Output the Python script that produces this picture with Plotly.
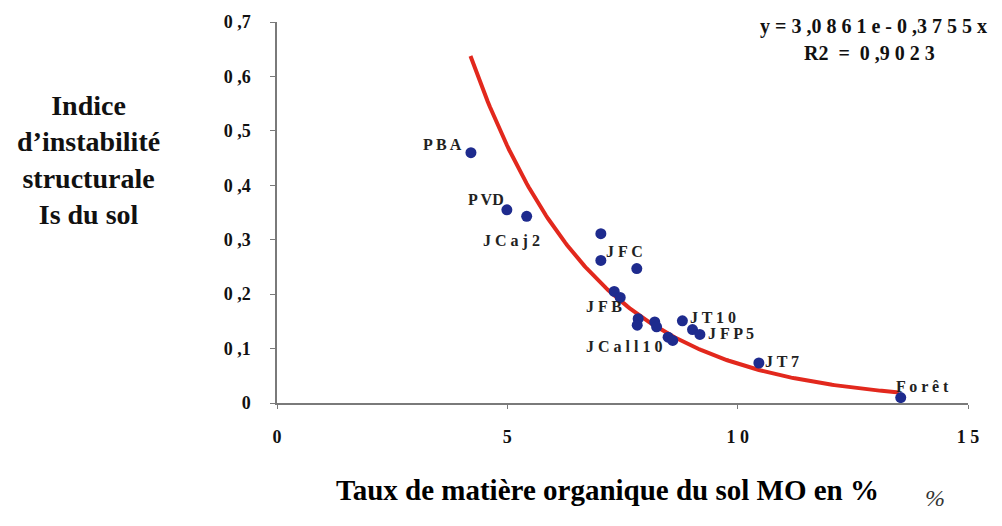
import numpy as np
import plotly.graph_objects as go

# Organic matter content (%) and structural instability index Is
mo_pct = [4.21, 4.99, 5.42, 7.03, 7.03, 7.81, 7.32, 7.45, 7.84, 7.82,
          8.20, 8.24, 8.49, 8.59, 8.80, 9.02, 9.18, 10.46, 13.54]
is_index = [0.460, 0.355, 0.343, 0.311, 0.262, 0.247, 0.205, 0.194, 0.155, 0.143,
            0.149, 0.140, 0.121, 0.115, 0.151, 0.135, 0.126, 0.0735, 0.010]

# Site labels and where they sit (data units)
site_names = ["P B A", "P VD", "J C a j 2", "J F C", "J F B", "J C a l l 1 0",
              "J T 1 0", "J F P 5", "J T 7", "F o r ê t"]
site_label_x = [3.60, 4.54, 5.08, 7.55, 7.10, 7.53, 9.46, 9.85, 10.96, 14.02]
site_label_y = [0.475, 0.374, 0.297, 0.279, 0.178, 0.104, 0.157, 0.128, 0.077, 0.031]

# Exponential fit y = a * exp(b x)
fit_a = 3.0861
fit_b = -0.3755
fit_x_range = [4.2, 13.5]

y_ticks = [0, 0.1, 0.2, 0.3, 0.4, 0.5, 0.6, 0.7]
y_tick_text = ["0", "0 ,1", "0 ,2", "0 ,3", "0 ,4", "0 ,5", "0 ,6", "0 ,7"]
x_ticks = [0, 5, 10, 15]
x_tick_text = ["0", "5", "1 0", "1 5"]

SERIF = "Liberation Serif, Times New Roman, serif"

fx = np.linspace(fit_x_range[0], fit_x_range[1], 200)
fy = fit_a * np.exp(fit_b * fx)

fig = go.Figure()
fig.add_trace(go.Scatter(x=fx, y=fy, mode="lines",
                         line=dict(color="#e2281d", width=4),
                         hoverinfo="skip", showlegend=False))
fig.add_trace(go.Scatter(x=mo_pct, y=is_index, mode="markers",
                         marker=dict(color="#1e2b8e", size=11),
                         showlegend=False))

for name, lx, ly in zip(site_names, site_label_x, site_label_y):
    fig.add_annotation(x=lx, y=ly, xref="x", yref="y", text=name, showarrow=False,
                       xanchor="center", yanchor="middle",
                       font=dict(family=SERIF, size=16, color="#222222", weight="bold"))

# Regression equation
fig.add_annotation(x=0.863, y=0.989, xref="paper", yref="paper", showarrow=False,
                   xanchor="center", yanchor="middle",
                   text="y = 3 ,0 8 6 1 e - 0 ,3 7 5 5 x",
                   font=dict(family=SERIF, size=20, color="#111111", weight="bold"))
fig.add_annotation(x=0.858, y=0.918, xref="paper", yref="paper", showarrow=False,
                   xanchor="center", yanchor="middle",
                   text="R2 \u00a0= \u00a00 ,9 0 2 3",
                   font=dict(family=SERIF, size=20, color="#111111", weight="bold"))

# Axis titles
fig.add_annotation(x=-0.2735, y=0.637, xref="paper", yref="paper", showarrow=False,
                   xanchor="center", yanchor="middle",
                   text="Indice<br>d’instabilité<br>structurale<br>Is du sol",
                   align="center",
                   font=dict(family=SERIF, size=28, color="#111111", weight="bold"))
fig.add_annotation(x=0.479, y=-0.229, xref="paper", yref="paper", showarrow=False,
                   xanchor="center", yanchor="middle",
                   text="Taux de matière organique du sol MO en %",
                   font=dict(family=SERIF, size=29, color="#000000", weight="bold"))
fig.add_annotation(x=0.952, y=-0.25, xref="paper", yref="paper", showarrow=False,
                   xanchor="center", yanchor="middle",
                   text="%",
                   font=dict(family=SERIF, size=24, color="#333333", style="italic"))

fig.update_layout(
    width=1002, height=526,
    margin=dict(l=277, r=34, t=22, b=123),
    paper_bgcolor="white", plot_bgcolor="white",
)
fig.update_xaxes(range=[0, 15], tickvals=x_ticks, ticktext=x_tick_text,
                 showgrid=False, zeroline=False, showline=True,
                 linecolor="#7a7a7a", linewidth=1.5,
                 ticks="outside", ticklen=4, tickcolor="#7a7a7a",
                 ticklabelstandoff=13,
                 tickfont=dict(family=SERIF, size=18, color="#111111", weight="bold"))
fig.update_yaxes(range=[0, 0.7], tickvals=y_ticks, ticktext=y_tick_text,
                 showgrid=False, zeroline=False, showline=True,
                 linecolor="#7a7a7a", linewidth=1.5,
                 ticks="outside", ticklen=5, tickcolor="#7a7a7a",
                 ticklabelstandoff=16,
                 tickfont=dict(family=SERIF, size=18, color="#111111", weight="bold"))

fig.write_html("out.html")
